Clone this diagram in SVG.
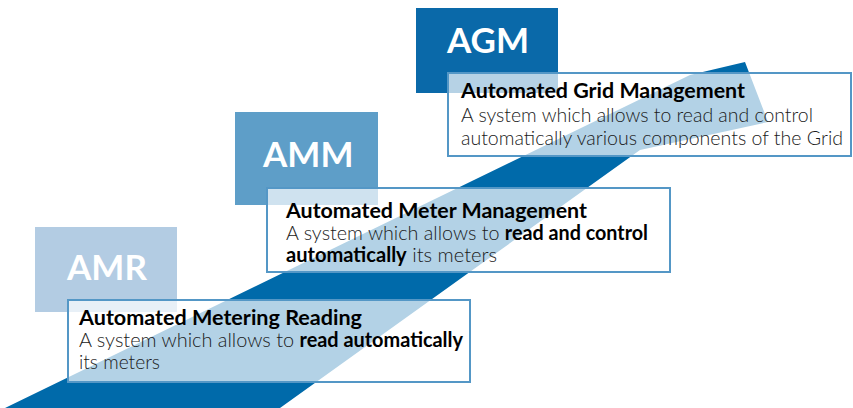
<svg xmlns="http://www.w3.org/2000/svg" width="853" height="408" viewBox="0 0 853 408">
<style>
.sq{stroke:none}
.lbl{font-family:Lato,"Liberation Sans",sans-serif;font-weight:700;font-size:35px;fill:#ffffff}
.box{fill:#ffffff;fill-opacity:0.7;stroke:#5497c6;stroke-width:2}
.t{font-family:Lato,"Liberation Sans",sans-serif;font-size:20.5px;font-weight:300;fill:#1a1a1a}
.h{font-weight:700;fill:#000000}
.b{font-weight:700;fill:#000000}
</style>
<rect width="853" height="408" fill="#ffffff"/>
<g id="band">
<polygon points="5,408 690,75 745,62 768,122 640,150 280,408" fill="#006aaa"/>
</g>
<g id="amr">
<rect class="sq" x="35" y="227" width="142" height="85" fill="#b3cce3"/>
<text class="lbl" x="67" y="280">AMR</text>
</g>
<g id="amm">
<rect class="sq" x="235" y="112" width="143" height="93" fill="#5e9ec8"/>
<text class="lbl" x="263" y="167">AMM</text>
</g>
<g id="agm">
<rect class="sq" x="416" y="8" width="142" height="85" fill="#0a69a9"/>
<text class="lbl" x="447" y="53">AGM</text>
</g>
<g id="amr-box">
<rect class="box" x="68" y="300" width="402" height="82"/>
<text class="t h" x="79" y="325" textLength="283" lengthAdjust="spacingAndGlyphs">Automated Metering Reading</text>
<text class="t" x="79" y="347" textLength="384" lengthAdjust="spacingAndGlyphs">A system which allows to <tspan class="b">read automatically</tspan></text>
<text class="t" x="79" y="369" textLength="81" lengthAdjust="spacingAndGlyphs">its meters</text>
</g>
<g id="amm-box">
<rect class="box" x="267" y="188" width="403" height="84"/>
<text class="t h" x="286" y="218" textLength="301" lengthAdjust="spacingAndGlyphs">Automated Meter Management</text>
<text class="t" x="286" y="240" textLength="362" lengthAdjust="spacingAndGlyphs">A system which allows to <tspan class="b">read and control</tspan></text>
<text class="t" x="286" y="262" textLength="211" lengthAdjust="spacingAndGlyphs"><tspan class="b">automatically</tspan> its meters</text>
</g>
<g id="agm-box">
<rect class="box" x="448" y="73" width="403" height="83"/>
<text class="t h" x="461" y="98" textLength="284" lengthAdjust="spacingAndGlyphs">Automated Grid Management</text>
<text class="t" x="461" y="122" textLength="352" lengthAdjust="spacingAndGlyphs">A system which allows to read and control</text>
<text class="t" x="461" y="145" textLength="382" lengthAdjust="spacingAndGlyphs">automatically various components of the Grid</text>
</g>
<g id="connectors"/>
</svg>
